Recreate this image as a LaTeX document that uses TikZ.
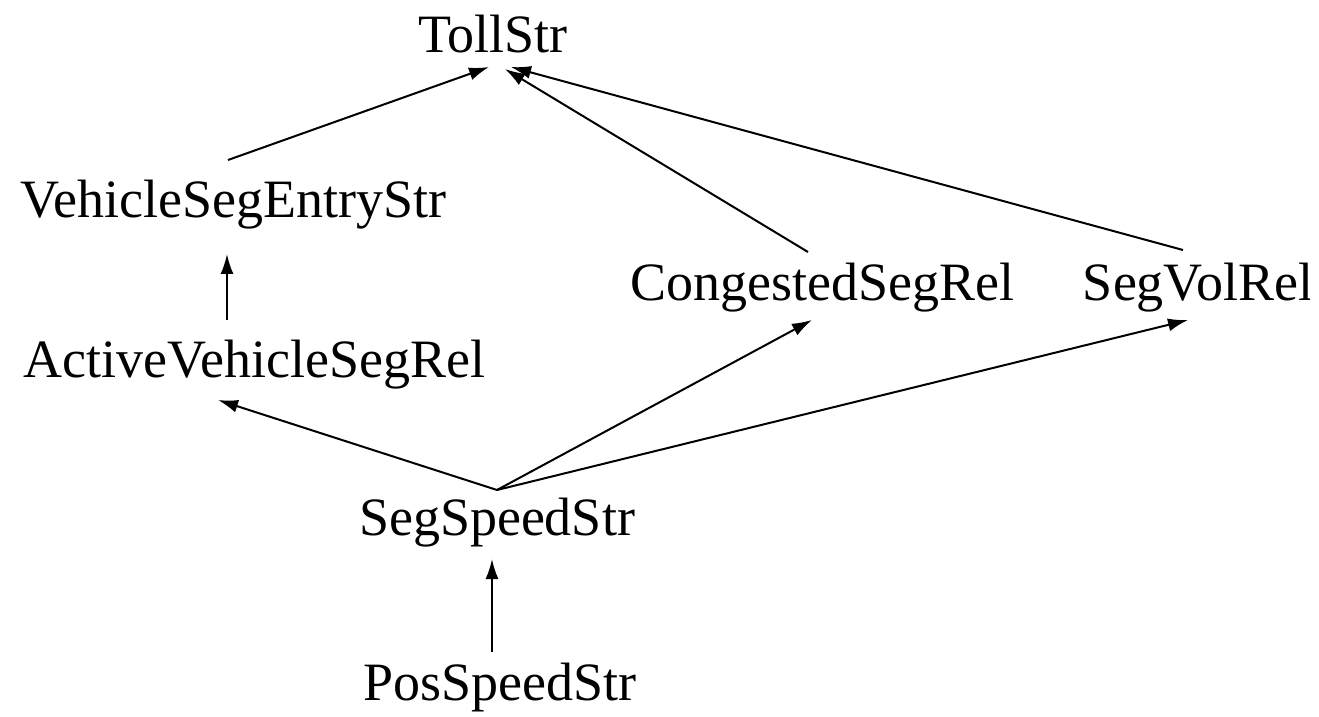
\documentclass[tikz,border=0pt]{standalone}
\usepackage{fontspec}
\setmainfont{Liberation Serif}
\usetikzlibrary{calc,arrows.meta}
\begin{document}
\begin{tikzpicture}[x=0.5pt,y=-0.5pt,
  lbl/.style={anchor=base,inner sep=0pt,font=\fontsize{27}{30}\selectfont},
  dep/.style={line width=1pt,-{Latex[length=10pt,width=6.5pt]}}]
\useasboundingbox (0,0) rectangle (1319,717);
\clip (0,0) rectangle (1309,717);
% stream / relation nodes
\node[lbl] (toll) at (493,53)  {TollStr};
\node[lbl] (veh)  at (233,218) {VehicleSegEntryStr};
\node[lbl] (cong) at (822,300) {CongestedSegRel};
\node[lbl] (vol)  at (1198,300) {SegVolRel};
\node[lbl] (act)  at (254,377) {ActiveVehicleSegRel};
\node[lbl] (seg)  at (497,535) {SegSpeedStr};
\node[lbl] (pos)  at (500,700) {PosSpeedStr};
% dependencies
\draw[dep] ($(veh.base)+(-5,-58)$) -- ($(toll.base)+(-4,14)$);
\draw[dep] ($(cong.base)+(-14,-48)$) -- ($(toll.base)+(12,16)$);
\draw[dep] ($(vol.base)+(-15,-50)$) -- ($(toll.base)+(18,14)$);
\draw[dep] ($(act.base)+(-27,-57)$) -- ($(veh.base)+(-6,36)$);
\draw[dep] ($(seg.base)+(0,-45)$) -- ($(act.base)+(-36,23)$);
\draw[dep] ($(seg.base)+(0,-45)$) -- ($(cong.base)+(-10,20)$);
\draw[dep] ($(seg.base)+(0,-45)$) -- ($(vol.base)+(-10,20)$);
\draw[dep] ($(pos.base)+(-8,-48)$) -- ($(seg.base)+(-5,24)$);
\end{tikzpicture}
\end{document}
